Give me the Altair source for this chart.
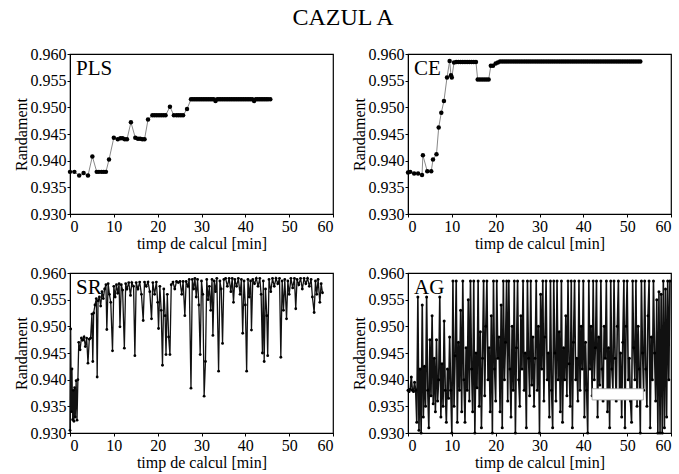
import altair as alt
import pandas as pd

FONT = "Liberation Serif"
TITLE = "CAZUL A"
X_TITLE = "timp de calcul [min]"
Y_TITLE = "Randament"
X_TICKS = [0, 10, 20, 30, 40, 50, 60]
Y_TICKS = [0.930, 0.935, 0.940, 0.945, 0.950, 0.955, 0.960]

# ---- PLS ----
PLS_T = [0.0, 1.0, 2.1, 3.1, 4.1, 5.1, 6.1, 6.6, 7.2, 7.7, 8.2, 8.9,
         10.0, 10.9, 11.5, 12.0, 12.5, 13.0,
         13.9, 14.9, 15.5, 16.0, 16.5, 17.0,
         17.8, 18.8, 19.3, 19.8, 20.3, 20.8, 21.3, 21.8,
         22.8, 23.7, 24.3, 24.8, 25.3, 25.8,
         26.7,
         27.6, 28.0, 28.4, 28.8, 29.2, 29.6, 30.0, 30.4, 30.8, 31.2,
         31.6, 32.0, 32.4, 32.8, 33.2, 33.6, 34.0, 34.4, 34.8, 35.2,
         35.6, 36.0, 36.4, 36.8, 37.2, 37.6, 38.0, 38.4, 38.8, 39.2,
         39.6, 40.0, 40.4, 40.8, 41.2, 41.6, 42.0, 42.4, 42.8, 43.2,
         43.6, 44.0, 44.4, 44.8, 45.2, 45.7]
PLS_Y = [0.9379, 0.9379, 0.9372, 0.9377, 0.9372, 0.9408, 0.9379, 0.9379, 0.9379, 0.9379, 0.9379, 0.9402,
         0.9443, 0.9440, 0.9442, 0.9442, 0.9440, 0.9440,
         0.9472, 0.9443, 0.9441, 0.9441, 0.9440, 0.9440,
         0.9477, 0.9485, 0.9485, 0.9485, 0.9485, 0.9485, 0.9485, 0.9485,
         0.9501, 0.9485, 0.9485, 0.9485, 0.9485, 0.9485,
         0.9497,
         0.9515, 0.9515, 0.9515, 0.9515, 0.9515, 0.9515, 0.9515, 0.9515, 0.9515, 0.9515,
         0.9515, 0.9515, 0.9515, 0.9515, 0.9512, 0.9515, 0.9515, 0.9515, 0.9515, 0.9515,
         0.9515, 0.9515, 0.9515, 0.9515, 0.9515, 0.9515, 0.9515, 0.9515, 0.9515, 0.9515,
         0.9515, 0.9515, 0.9515, 0.9515, 0.9515, 0.9515, 0.9512, 0.9515, 0.9515, 0.9515,
         0.9515, 0.9515, 0.9515, 0.9515, 0.9515, 0.9515]

# ---- CE ----
CE_T = [0.0, 0.5, 1.4, 2.3, 3.2, 3.4, 4.4, 5.3, 5.7, 6.5, 7.0, 7.6, 8.2, 8.9, 9.5, 9.8, 10.0, 10.5,
        11.0, 11.5, 12.0, 12.5, 13.0, 13.5, 14.0, 14.5, 15.0, 15.5,
        15.9, 16.4, 16.9, 17.4, 17.9, 18.4,
        18.9, 19.4,
        20.0, 20.5,
        21.0, 21.5, 22.0, 22.5, 23.0, 23.5, 24.0, 24.5, 25.0, 25.5,
        26.0, 26.5, 27.0, 27.5, 28.0, 28.5, 29.0, 29.5, 30.0, 30.5,
        31.0, 31.5, 32.0, 32.5, 33.0, 33.5, 34.0, 34.5, 35.0, 35.5,
        36.0, 36.5, 37.0, 37.5, 38.0, 38.5, 39.0, 39.5, 40.0, 40.5,
        41.0, 41.5, 42.0, 42.5, 43.0, 43.5, 44.0, 44.5, 45.0, 45.5,
        46.0, 46.5, 47.0, 47.5, 48.0, 48.5, 49.0, 49.5, 50.0, 50.5,
        51.0, 51.5, 52.0, 52.5, 53.0]
CE_Y = [0.9378, 0.9379, 0.9376, 0.9376, 0.9373, 0.9410, 0.9380, 0.9380, 0.9402, 0.9412, 0.9462, 0.9490,
        0.9512, 0.9556, 0.9587, 0.9560, 0.9556, 0.9584,
        0.9585, 0.9585, 0.9585, 0.9585, 0.9585, 0.9585, 0.9585, 0.9585, 0.9585, 0.9585,
        0.9552, 0.9552, 0.9552, 0.9552, 0.9552, 0.9552,
        0.9578, 0.9578,
        0.9582, 0.9584,
        0.9586, 0.9586, 0.9586, 0.9586, 0.9586, 0.9586, 0.9586, 0.9586, 0.9586, 0.9586,
        0.9586, 0.9586, 0.9586, 0.9586, 0.9586, 0.9586, 0.9586, 0.9586, 0.9586, 0.9586,
        0.9586, 0.9586, 0.9586, 0.9586, 0.9586, 0.9586, 0.9586, 0.9586, 0.9586, 0.9586,
        0.9586, 0.9586, 0.9586, 0.9586, 0.9586, 0.9586, 0.9586, 0.9586, 0.9586, 0.9586,
        0.9586, 0.9586, 0.9586, 0.9586, 0.9586, 0.9586, 0.9586, 0.9586, 0.9586, 0.9586,
        0.9586, 0.9586, 0.9586, 0.9586, 0.9586, 0.9586, 0.9586, 0.9586, 0.9586, 0.9586,
        0.9586, 0.9586, 0.9586, 0.9586, 0.9586]

# ---- SR ----
SR_T = [0.0, 0.15, 0.3, 0.45, 0.6, 0.75, 0.9, 1.05, 1.2, 1.4, 1.6, 1.8, 2.0, 2.3, 2.6, 2.9, 3.2, 3.5,
        3.8, 4.1, 4.4, 4.7, 5.0, 5.2, 5.4, 5.7, 6.0, 6.2, 6.4, 6.7, 7.0, 7.3, 7.6, 7.9, 8.2, 8.4, 8.7,
        9.0, 9.3, 9.7, 10.0, 10.3, 10.6, 10.9, 11.2, 11.4, 11.7, 12.0, 12.4, 12.7, 13.0, 13.4, 13.8,
        14.1, 14.5, 14.8, 15.1, 15.5, 15.9, 16.3, 16.7, 17.0, 17.4, 17.8, 18.2, 18.6, 18.9, 19.3, 19.7,
        20.0, 20.2, 20.5, 20.8, 21.1, 21.4, 21.7, 21.9, 22.2, 22.5, 22.8, 23.1, 23.5, 23.9, 24.3, 24.7,
        25.1, 25.5, 25.8, 26.2, 26.5, 26.9, 27.2, 27.6, 27.9, 28.2, 28.5, 28.8, 29.1, 29.4, 29.7, 30.0,
        30.3, 30.6, 30.9, 31.2, 31.5, 31.8, 32.1, 32.4, 32.6, 32.9, 33.2, 33.5, 33.9, 34.2, 34.5, 34.8,
        35.1, 35.5, 35.9, 36.3, 36.7, 37.0, 37.3, 37.6, 38.0, 38.4, 38.8, 39.1, 39.4, 39.7, 40.0, 40.3,
        40.6, 40.9, 41.2, 41.4, 41.7, 42.1, 42.5, 42.9, 43.3, 43.6, 43.9, 44.1, 44.3, 44.6, 44.9, 45.1,
        45.4, 45.8, 46.2, 46.6, 47.0, 47.4, 47.8, 48.1, 48.4, 48.7, 49.0, 49.4, 49.7, 50.0, 50.4, 50.8,
        51.2, 51.5, 51.8, 52.2, 52.6, 53.0, 53.4, 53.8, 54.2, 54.6, 55.0, 55.3, 55.7, 56.0, 56.3, 56.6,
        57.0, 57.3, 57.6]
SR_Y = [0.9305, 0.9495, 0.9340, 0.9420, 0.9325, 0.9380, 0.9322, 0.9385, 0.9330, 0.9398, 0.9324, 0.9400,
        0.9470, 0.9456, 0.9478, 0.9474, 0.9480, 0.9462, 0.9478, 0.9431, 0.9476, 0.9478, 0.9523, 0.9434,
        0.9525, 0.9540, 0.9552, 0.9405, 0.9548, 0.9555, 0.9538, 0.9565, 0.9552, 0.9570, 0.9578, 0.9494,
        0.9580, 0.9560, 0.9545, 0.9454, 0.9575, 0.9555, 0.9578, 0.9562, 0.9580, 0.9499, 0.9578, 0.9568,
        0.9459, 0.9580, 0.9570, 0.9582, 0.9558, 0.9582, 0.9575, 0.9445, 0.9582, 0.9570, 0.9583, 0.9560,
        0.9511, 0.9583, 0.9575, 0.9583, 0.9565, 0.9514, 0.9582, 0.9560, 0.9583, 0.9545, 0.9496, 0.9575,
        0.9530, 0.9427, 0.9570, 0.9520, 0.9447, 0.9560, 0.9480, 0.9447, 0.9578, 0.9583, 0.9570, 0.9584,
        0.9582, 0.9584, 0.9560, 0.9584, 0.9520, 0.9584, 0.9575, 0.9588, 0.9384, 0.9588, 0.9570, 0.9590,
        0.9555, 0.9588, 0.9540, 0.9447, 0.9585, 0.9560, 0.9369, 0.9434, 0.9588, 0.9550, 0.9575, 0.9530,
        0.9588, 0.9483, 0.9585, 0.9565, 0.9590, 0.9416, 0.9585, 0.9570, 0.9468, 0.9588, 0.9590, 0.9575,
        0.9590, 0.9565, 0.9590, 0.9545, 0.9588, 0.9575, 0.9590, 0.9560, 0.9588, 0.9487, 0.9585, 0.9540,
        0.9416, 0.9588, 0.9555, 0.9585, 0.9493, 0.9588, 0.9580, 0.9590, 0.9575, 0.9590, 0.9560, 0.9450,
        0.9585, 0.9434, 0.9570, 0.9520, 0.9445, 0.9588, 0.9565, 0.9590, 0.9575, 0.9590, 0.9580, 0.9590,
        0.9442, 0.9585, 0.9530, 0.9588, 0.9514, 0.9585, 0.9560, 0.9590, 0.9572, 0.9590, 0.9533, 0.9588,
        0.9578, 0.9590, 0.9570, 0.9590, 0.9580, 0.9590, 0.9575, 0.9588, 0.9555, 0.9526, 0.9585, 0.9560,
        0.9588, 0.9545, 0.9580, 0.9563]

# ---- AG ----
AG_T = [0.0, 0.25, 0.5, 0.75, 1.0, 1.25, 1.5, 1.75, 2.0, 2.25, 2.5, 2.75, 3.0, 3.25, 3.5, 3.75,
        4.0, 4.25, 4.5, 4.75, 5.0, 5.25, 5.5, 5.75, 6.0, 6.25, 6.5, 6.75, 7.0, 7.25, 7.5, 7.75,
        8.0, 8.25, 8.5, 8.75, 9.0, 9.25, 9.5, 9.75, 10.0, 10.25, 10.5, 10.75, 11.0, 11.25, 11.5, 11.75,
        12.0, 12.25, 12.5, 12.75, 13.0, 13.25, 13.5, 13.75, 14.0, 14.25, 14.5, 14.75, 15.0, 15.25, 15.5, 15.75,
        16.0, 16.25, 16.5, 16.75, 17.0, 17.25, 17.5, 17.75, 18.0, 18.25, 18.5, 18.75, 19.0, 19.25, 19.5, 19.75,
        20.0, 20.25, 20.5, 20.75, 21.0, 21.25, 21.5, 21.75, 22.0, 22.25, 22.5, 22.75, 23.0, 23.25, 23.5, 23.75,
        24.0, 24.25, 24.5, 24.75, 25.0, 25.25, 25.5, 25.75, 26.0, 26.25, 26.5, 26.75, 27.0, 27.25, 27.5, 27.75,
        28.0, 28.25, 28.5, 28.75, 29.0, 29.25, 29.5, 29.75, 30.0, 30.25, 30.5, 30.75, 31.0, 31.25, 31.5, 31.75,
        32.0, 32.25, 32.5, 32.75, 33.0, 33.25, 33.5, 33.75, 34.0, 34.25, 34.5, 34.75, 35.0, 35.25, 35.5, 35.75,
        36.0, 36.25, 36.5, 36.75, 37.0, 37.25, 37.5, 37.75, 38.0, 38.25, 38.5, 38.75, 39.0, 39.25, 39.5, 39.75,
        40.0, 40.25, 40.5, 40.75, 41.0, 41.25, 41.5, 41.75, 42.0, 42.25, 42.5, 42.75, 43.0, 43.25, 43.5, 43.75,
        44.0, 44.25, 44.5, 44.75, 45.0, 45.25, 45.5, 45.75, 46.0, 46.25, 46.5, 46.75, 47.0, 47.25, 47.5, 47.75,
        48.0, 48.25, 48.5, 48.75, 49.0, 49.25, 49.5, 49.75, 50.0, 50.25, 50.5, 50.75, 51.0, 51.25, 51.5, 51.75,
        52.0, 52.25, 52.5, 52.75, 53.0, 53.25, 53.5, 53.75, 54.0, 54.25, 54.5, 54.75, 55.0, 55.25, 55.5, 55.75,
        56.0, 56.25, 56.5, 56.75, 57.0, 57.25, 57.5, 57.75, 58.0, 58.25, 58.5, 58.75, 59.0, 59.25, 59.5, 59.75]
AG_Y = [0.9380, 0.9378, 0.9382, 0.9405, 0.9380, 0.9378, 0.9395, 0.9380,
        0.9320, 0.9555, 0.9305, 0.9420, 0.9300, 0.9540, 0.9330, 0.9425,
        0.9350, 0.9555, 0.9380, 0.9310, 0.9475, 0.9370, 0.9520, 0.9355,
        0.9440, 0.9340, 0.9475, 0.9360, 0.9400, 0.9555, 0.9330, 0.9430,
        0.9350, 0.9510, 0.9380, 0.9320, 0.9420, 0.9365, 0.9480, 0.9380,
        0.9300, 0.9585, 0.9350, 0.9445, 0.9585, 0.9320, 0.9470, 0.9380,
        0.9530, 0.9340, 0.9585, 0.9400, 0.9320, 0.9460, 0.9380, 0.9550,
        0.9360, 0.9585, 0.9420, 0.9340, 0.9585, 0.9300, 0.9450, 0.9385,
        0.9585, 0.9350, 0.9490, 0.9310, 0.9440, 0.9585, 0.9370, 0.9500,
        0.9585, 0.9400, 0.9460, 0.9340, 0.9520, 0.9300, 0.9585, 0.9420,
        0.9360, 0.9585, 0.9440, 0.9480, 0.9340, 0.9540, 0.9310, 0.9585,
        0.9400, 0.9470, 0.9585, 0.9360, 0.9585, 0.9420, 0.9330, 0.9500,
        0.9380, 0.9585, 0.9300, 0.9460, 0.9585, 0.9400, 0.9350, 0.9520,
        0.9420, 0.9585, 0.9380, 0.9450, 0.9310, 0.9585, 0.9440, 0.9370,
        0.9585, 0.9390, 0.9480, 0.9350, 0.9440, 0.9585, 0.9380, 0.9500,
        0.9300, 0.9560, 0.9420, 0.9585, 0.9360, 0.9480, 0.9585, 0.9400,
        0.9450, 0.9330, 0.9585, 0.9380, 0.9310, 0.9585, 0.9450, 0.9360,
        0.9585, 0.9400, 0.9490, 0.9340, 0.9585, 0.9320, 0.9460, 0.9400,
        0.9520, 0.9370, 0.9585, 0.9430, 0.9350, 0.9585, 0.9310, 0.9470,
        0.9585, 0.9400, 0.9440, 0.9360, 0.9585, 0.9380, 0.9500, 0.9420,
        0.9585, 0.9330, 0.9470, 0.9380, 0.9300, 0.9585, 0.9420, 0.9500,
        0.9370, 0.9585, 0.9400, 0.9460, 0.9585, 0.9330, 0.9480, 0.9390,
        0.9585, 0.9420, 0.9360, 0.9500, 0.9440, 0.9585, 0.9340, 0.9460,
        0.9310, 0.9585, 0.9420, 0.9380, 0.9585, 0.9440, 0.9360, 0.9500,
        0.9585, 0.9380, 0.9450, 0.9330, 0.9470, 0.9585, 0.9310, 0.9500,
        0.9585, 0.9400, 0.9440, 0.9360, 0.9320, 0.9585, 0.9460, 0.9400,
        0.9585, 0.9350, 0.9500, 0.9420, 0.9300, 0.9585, 0.9450, 0.9380,
        0.9585, 0.9420, 0.9350, 0.9520, 0.9585, 0.9310, 0.9480, 0.9400,
        0.9585, 0.9450, 0.9360, 0.9550, 0.9300, 0.9565, 0.9300, 0.9560,
        0.9300, 0.9585, 0.9310, 0.9570, 0.9330, 0.9585, 0.9400, 0.9585]

# white box seen inside the AG panel
AG_BOX_X = [42.0, 53.7]
AG_BOX_Y = [0.9362, 0.9383]

W, H = 263, 160

X_SCALE = alt.Scale(domain=[0, 60], nice=False)
Y_SCALE = alt.Scale(domain=[0.930, 0.960], nice=False, zero=False)
AX_STYLE = dict(labelFont=FONT, titleFont=FONT, labelFontSize=16, titleFontSize=16,
                labelColor="black", titleColor="black", titleFontWeight="normal",
                labelOverlap=False, labelPadding=1, titlePadding=1)
X_AXIS = alt.Axis(values=X_TICKS, title=X_TITLE, **AX_STYLE)
Y_AXIS = alt.Axis(values=Y_TICKS, format=".3f", title=Y_TITLE, **AX_STYLE)


def panel(t, y, name, line_color, line_w, pt_size, box=None):
    df = pd.DataFrame({"t": t, "y": y})
    xenc = alt.X("t:Q", scale=X_SCALE, axis=X_AXIS)
    yenc = alt.Y("y:Q", scale=Y_SCALE, axis=Y_AXIS)
    base = alt.Chart(df)
    line = base.mark_line(color=line_color, strokeWidth=line_w).encode(x=xenc, y=yenc)
    pts = base.mark_circle(color="black", size=pt_size, opacity=1).encode(x=xenc, y=yenc)
    layers = [line, pts]
    if box is not None:
        bdf = pd.DataFrame({"x0": [box[0][0]], "x1": [box[0][1]], "y0": [box[1][0]], "y1": [box[1][1]]})
        layers.append(alt.Chart(bdf).mark_rect(fill="white", stroke="#999", strokeWidth=0.8).encode(
            x=alt.X("x0:Q", scale=X_SCALE, axis=X_AXIS), x2="x1:Q",
            y=alt.Y("y0:Q", scale=Y_SCALE, axis=Y_AXIS), y2="y1:Q"))
    lab = alt.Chart(pd.DataFrame({"name": [name]})).mark_text(
        font=FONT, fontSize=21, align="left", baseline="alphabetic", color="black"
    ).encode(text="name:N", x=alt.value(6), y=alt.value(21))
    layers.append(lab)
    return alt.layer(*layers).properties(width=W, height=H)


pls = panel(PLS_T, PLS_Y, "PLS", "#888888", 1.0, 20)
ce = panel(CE_T, CE_Y, "CE", "#888888", 1.0, 20)
sr = panel(SR_T, SR_Y, "SR", "#111111", 1.3, 8)
ag = panel(AG_T, AG_Y, "AG", "#111111", 1.6, 9, box=(AG_BOX_X, AG_BOX_Y))

chart = alt.vconcat(
    alt.hconcat(pls, ce, spacing=15),
    alt.hconcat(sr, ag, spacing=15),
    spacing=12,
).properties(
    title=alt.TitleParams(TITLE, anchor="middle", font=FONT, fontSize=24, fontWeight="normal",
                          color="black", offset=15),
    padding={"left": 12, "top": 6, "right": 5, "bottom": 5},
).configure_axis(
    labelFont=FONT, titleFont=FONT,
    domainColor="black", tickColor="black", tickSize=3, grid=False,
).configure_view(stroke="black", strokeWidth=1.2)

chart.save("out.html", embed_options={"renderer": "svg", "actions": False})
